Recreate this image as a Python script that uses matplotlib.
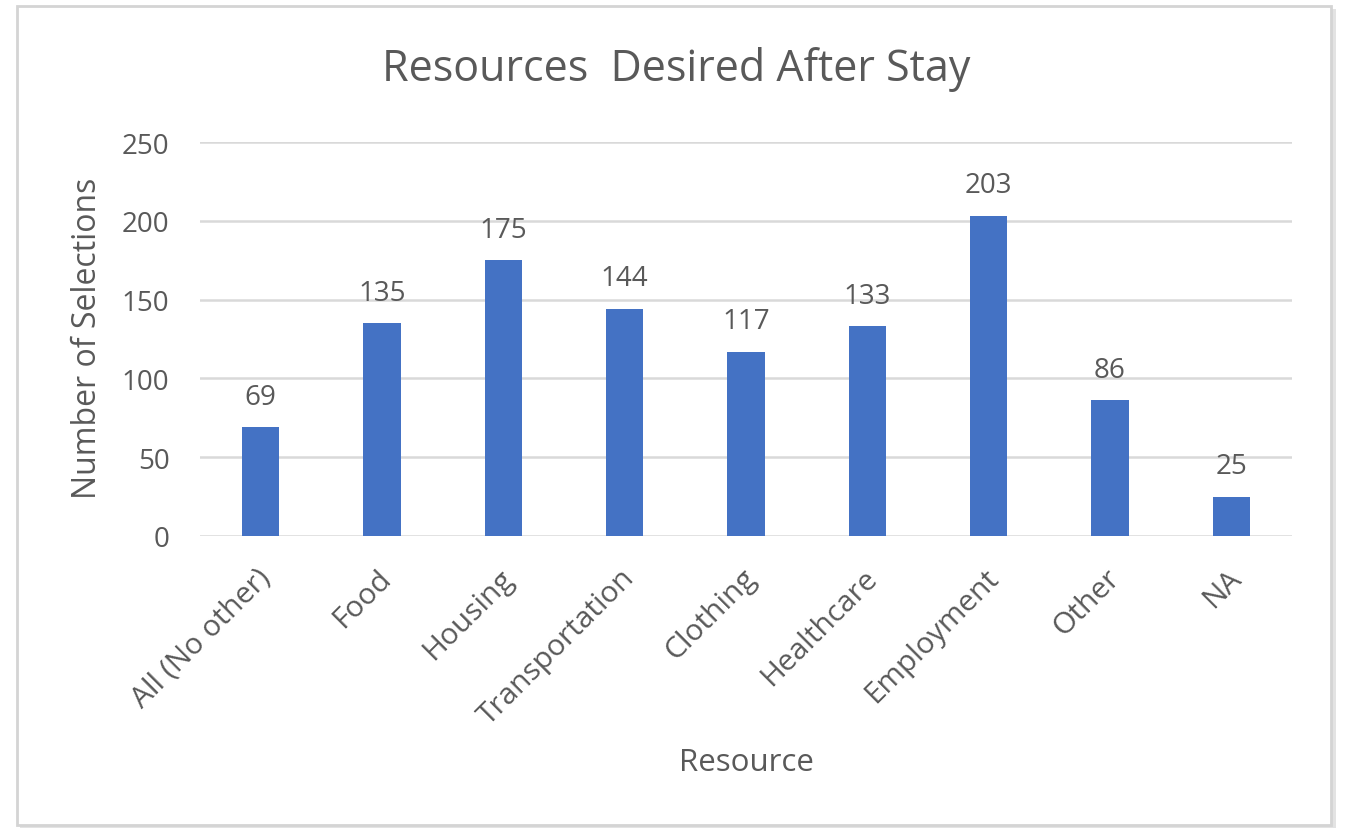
import matplotlib.pyplot as plt
import matplotlib.transforms as mtransforms
from matplotlib.patches import Rectangle

plt.rcParams['font.family'] = ['Open Sans', 'DejaVu Sans']

categories = ['All (No other)', 'Food', 'Housing', 'Transportation', 'Clothing',
              'Healthcare', 'Employment', 'Other', 'NA']
counts = [69, 135, 175, 144, 117, 133, 203, 86, 25]

text_color = '#595959'
bar_color = '#4472C4'
grid_color = '#D9D9D9'

fig = plt.figure(figsize=(13.45, 8.29), dpi=100)

# chart frame with a light shadow
fig.patches.append(Rectangle((20 / 1345, 1 - 832 / 829), 1316 / 1345, 822 / 829,
                             transform=fig.transFigure, facecolor='#E3E3E3',
                             edgecolor='none', zorder=-2))
fig.patches.append(Rectangle((17 / 1345, 1 - 826 / 829), 1314 / 1345, 819 / 829,
                             transform=fig.transFigure, facecolor='white',
                             edgecolor='#D4D4D4', linewidth=2, zorder=-1))

ax = fig.add_axes([200 / 1345, 292 / 829, 1092 / 1345, 394 / 829])
ax.set_facecolor('none')

x = range(len(categories))
bars = ax.bar(x, counts, width=0.305, color=bar_color, zorder=3)
for rect, v in zip(bars, counts):
    ax.annotate(str(v), (rect.get_x() + rect.get_width() / 2, v),
                xytext=(0, 17), textcoords='offset points',
                ha='center', va='baseline', fontsize=20, color=text_color)

ax.set_xlim(-0.5, len(categories) - 0.5)
ax.set_ylim(0, 250)
ax.set_yticks(range(0, 251, 50))
ax.yaxis.grid(True, color=grid_color, linewidth=1.8)
ax.set_axisbelow(True)
for s in ax.spines.values():
    s.set_visible(False)
ax.tick_params(length=0, labelsize=20, colors=text_color, pad=18)
ax.tick_params(axis='y', pad=22)
ax.set_xticks(list(x))
ax.set_xticklabels(categories, rotation=45, ha='right', rotation_mode='anchor',
                   fontsize=21.5)
shift = mtransforms.ScaledTranslation(-5 / 100, -2 / 100, fig.dpi_scale_trans)
for lbl in ax.get_xticklabels():
    lbl.set_transform(lbl.get_transform() + shift)

ax.set_ylabel('Number of Selections', fontsize=23, color=text_color, va='center')
ax.yaxis.set_label_coords(-0.1026, 0.505)
ax.set_xlabel('Resource', fontsize=22.5, color=text_color, va='center')
ax.xaxis.set_label_coords(0.5, -0.574)
fig.text(676 / 1345, 1 - 69 / 829, 'Resources  Desired After Stay', ha='center',
         va='center', fontsize=31, color=text_color)

fig.savefig('out.png', dpi=100)
